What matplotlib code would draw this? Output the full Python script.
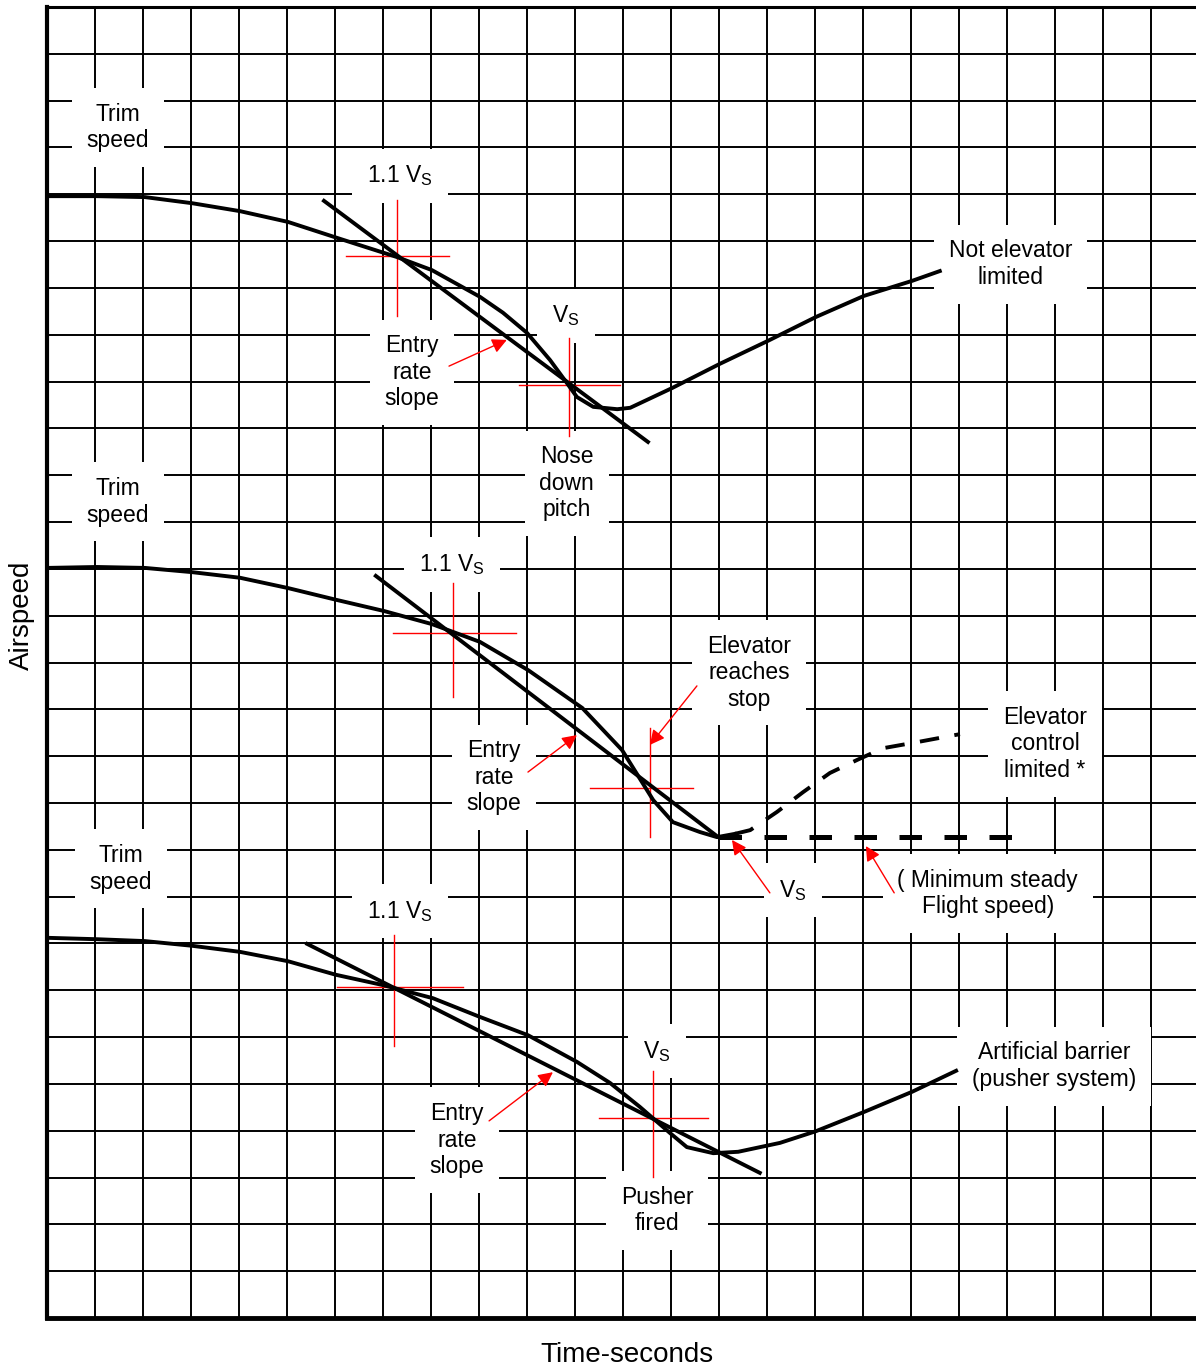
import matplotlib.pyplot as plt

plt.rcParams['font.family'] = ['Liberation Sans', 'DejaVu Sans']
plt.rcParams['mathtext.fontset'] = 'custom'
plt.rcParams['mathtext.rm'] = 'Liberation Sans'

# grid units: time in columns, airspeed in rows
# top trace - not elevator limited
t_top = [0, 1.04, 2.04, 3.02, 4.02, 5.02, 6.10, 7.29, 8.02, 9.02, 9.5, 10.0, 10.48,
         10.83, 11.04, 11.38, 11.88, 12.15, 13.02, 14.02, 15.02, 16.02, 17.02, 18.02, 18.6]
v_top = [23.96, 23.96, 23.94, 23.81, 23.64, 23.41, 23.05, 22.66, 22.38, 21.81, 21.47, 21.04, 20.46,
         19.97, 19.67, 19.46, 19.41, 19.44, 19.86, 20.38, 20.87, 21.38, 21.83, 22.15, 22.36]
slope_top_t = [5.77, 12.52]
slope_top_v = [23.86, 18.71]

# middle trace - elevator control limited
t_mid = [0, 1.04, 2.04, 3.02, 4.02, 5.02, 6.02, 7.02, 8.02, 9.02, 10.02, 11.15, 11.98,
         12.46, 12.63, 13.04, 13.6, 13.96, 14.33]
v_mid = [16.02, 16.04, 16.02, 15.93, 15.81, 15.59, 15.34, 15.10, 14.82, 14.44, 13.84, 13.03, 12.13,
         11.34, 11.06, 10.59, 10.38, 10.27, 10.34]
slope_mid_t = [6.85, 13.96]
slope_mid_v = [15.85, 10.29]
t_limited = [14.33, 14.65, 15.21, 15.75, 16.31, 16.88, 17.42, 18.13, 19.02]
v_limited = [10.34, 10.42, 10.81, 11.23, 11.64, 11.92, 12.17, 12.30, 12.47]
t_minsteady = [14.0, 20.4]
v_minsteady = [10.27, 10.27]

# bottom trace - artificial barrier
t_bot = [0, 1.04, 2.04, 3.02, 4.02, 5.02, 6.02, 7.0, 8.04, 9.02, 10.02, 11.04, 11.73, 12.35,
         12.98, 13.33, 13.88, 14.4, 15.27, 16.02, 17.02, 18.02, 18.94]
v_bot = [8.12, 8.09, 8.05, 7.95, 7.82, 7.62, 7.33, 7.11, 6.83, 6.43, 6.04, 5.47, 5.02, 4.51,
         3.95, 3.65, 3.52, 3.55, 3.74, 3.99, 4.40, 4.83, 5.28]
slope_bot_t = [5.42, 14.85]
slope_bot_v = [7.99, 3.10]

# red crosshairs: centre t, centre v, t from, t to, v from, v to
cross_t = [7.29, 10.875, 8.46, 12.56, 7.23, 12.63]
cross_v = [22.68, 19.93, 14.63, 11.32, 7.07, 4.27]
cross_t0 = [6.23, 9.83, 7.21, 11.31, 6.04, 11.5]
cross_t1 = [8.375, 11.94, 9.77, 13.46, 8.67, 13.77]
cross_v0 = [21.40, 18.84, 13.26, 10.27, 5.81, 3.01]
cross_v1 = [23.88, 20.93, 15.70, 12.60, 8.18, 5.28]

# red pointer arrows: tail -> head
arrow_t0 = [8.375, 10.02, 13.54, 15.06, 17.65, 9.21]
arrow_v0 = [20.33, 11.66, 13.50, 9.08, 9.08, 4.21]
arrow_t1 = [9.58, 11.04, 12.56, 14.27, 17.06, 10.54]
arrow_v1 = [20.89, 12.45, 12.24, 10.21, 10.08, 5.25]

VS = r'V$_{\mathregular{S}}$'
labels = ['Trim\nspeed', '1.1 ' + VS, 'Entry\nrate\nslope', VS, 'Nose\ndown\npitch',
          'Not elevator\nlimited',
          'Trim\nspeed', '1.1 ' + VS, 'Elevator\nreaches\nstop', 'Entry\nrate\nslope',
          'Elevator\ncontrol\nlimited *', VS, '( Minimum steady\nFlight speed)',
          'Trim\nspeed', '1.1 ' + VS, VS, 'Artificial barrier\n(pusher system)',
          'Entry\nrate\nslope', 'Pusher\nfired']
label_t = [1.48, 7.35, 7.6, 10.81, 10.83, 20.08,
           1.48, 8.44, 14.63, 9.31, 20.79, 15.54, 19.6,
           1.54, 7.35, 12.71, 20.98, 8.54, 12.71]
label_v = [25.42, 24.39, 20.2, 21.40, 17.83, 22.51,
           17.43, 16.10, 13.78, 11.55, 12.26, 9.14, 9.06,
           9.59, 8.69, 5.70, 5.38, 3.80, 2.29]

fig = plt.figure(figsize=(11.96, 13.72), dpi=100)
ax = fig.add_axes([47 / 1196, 54 / 1372, 1152 / 1196, 1311 / 1372])
ax.set_xlim(0, 24)
ax.set_ylim(0, 28)
ax.set_xticks(range(25))
ax.set_yticks(range(29))
ax.tick_params(length=0, labelbottom=False, labelleft=False)
ax.grid(True, color='black', linewidth=1.4)
ax.set_axisbelow(True)
for side, lw in [('left', 3), ('bottom', 3.5), ('top', 2.2), ('right', 2)]:
    ax.spines[side].set_linewidth(lw)

for i in range(len(cross_t)):
    ax.plot([cross_t0[i], cross_t1[i]], [cross_v[i], cross_v[i]], color='red', lw=1, zorder=4)
    ax.plot([cross_t[i], cross_t[i]], [cross_v0[i], cross_v1[i]], color='red', lw=1, zorder=4)

curve = dict(color='black', lw=2.8, zorder=5, solid_joinstyle='round')
ax.plot(t_top, v_top, **curve)
ax.plot(slope_top_t, slope_top_v, **curve)
ax.plot(t_mid, v_mid, **curve)
ax.plot(slope_mid_t, slope_mid_v, **curve)
ax.plot(t_bot, v_bot, **curve)
ax.plot(slope_bot_t, slope_bot_v, **curve)
ax.plot(t_limited, v_limited, color='black', lw=2.8, linestyle=(0, (5, 4)), zorder=5)
ax.plot(t_minsteady, v_minsteady, color='black', lw=3.6, linestyle=(0, (4.5, 4.5)), zorder=5)

for i in range(len(arrow_t0)):
    ax.annotate('', xy=(arrow_t1[i], arrow_v1[i]), xytext=(arrow_t0[i], arrow_v0[i]),
                arrowprops=dict(arrowstyle='-|>', color='red', lw=1,
                                mutation_scale=22, shrinkA=0, shrinkB=0),
                zorder=6)

for txt, t, v in zip(labels, label_t, label_v):
    ax.text(t, v, txt, ha='center', va='center', fontsize=16.5, linespacing=1.18,
            zorder=3, bbox=dict(boxstyle='square,pad=0.65', fc='white', ec='none'))

fig.text(22 / 1196, 1 - 615 / 1372, 'Airspeed', rotation=90, ha='center', va='center', fontsize=20)
fig.text(627 / 1196, 1 - 1355 / 1372, 'Time-seconds', ha='center', va='center', fontsize=20)

fig.savefig('out.png', dpi=100)
